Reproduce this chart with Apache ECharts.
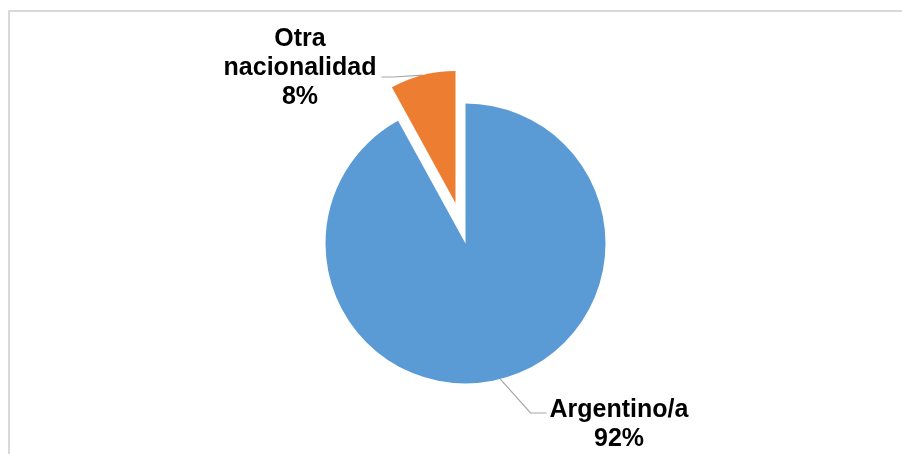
<!DOCTYPE html>
<html>
<head>
<meta charset="utf-8">
<script src="https://cdn.jsdelivr.net/npm/echarts@6/dist/echarts.min.js"></script>
<style>
  * { margin: 0; padding: 0; }
  html, body { width: 902px; height: 454px; background: #fff; overflow: hidden; }
  #main { width: 902px; height: 454px; }
</style>
</head>
<body>
<div id="main"></div>
<script>
  // datos
  var categorias = ['Argentino/a', 'Otra nacionalidad'];
  var valores = [92, 8];
  var colores = ['#5B9BD5', '#ED7D31'];

  var fuente = { fontFamily: 'Liberation Sans, Arial, sans-serif', fontWeight: 'bold', fontSize: 25, lineHeight: 29, color: '#000' };

  // posicion de cada etiqueta (centro del bloque) y donde llega la linea guia
  var posEtiquetas = [[619, 425], [300, 68]];
  var llegadaLinea = [{ lado: 'izq', dy: -12 }, { lado: 'der', dy: 9 }];

  // arma los datos de una serie: solo la porcion "visible" se pinta
  function armarDatos(visible) {
    return categorias.map(function (c, i) {
      var d = { name: c, value: valores[i], itemStyle: { color: colores[i] } };
      if (i !== visible) {
        d.itemStyle = { color: 'rgba(0,0,0,0)' };
        d.label = { show: false };
        d.labelLine = { show: false };
      }
      return d;
    });
  }

  var chart = echarts.init(document.getElementById('main'));

  var serieBase = {
    type: 'pie',
    startAngle: 90,
    clockwise: true,
    silent: true,
    animation: false,
    emphasis: { disabled: true },
    label: Object.assign({
      show: true,
      position: 'outside',
      formatter: function (p) { return p.name.replace(' ', '\n') + '\n' + p.percent + '%'; },
      align: 'center'
    }, fuente),
    labelLine: { show: true, length: 10, length2: 10, lineStyle: { color: '#A6A6A6', width: 1.2 } },
    labelLayout: function (params) {
      var i = params.dataIndex;
      var p = posEtiquetas[i];
      var w = params.labelRect.width;
      var ll = llegadaLinea[i];
      var fin, giro;
      if (ll.lado === 'izq') {
        fin = [p[0] - w / 2 - 3, p[1] + ll.dy];
        giro = [fin[0] - 16, fin[1]];
      } else {
        fin = [p[0] + w / 2 + 5, p[1] + ll.dy];
        giro = [fin[0] + 12, fin[1]];
      }
      var out = { x: p[0], y: p[1], align: 'center', verticalAlign: 'middle' };
      if (params.labelLinePoints) {
        out.labelLinePoints = [params.labelLinePoints[0], giro, fin];
      }
      return out;
    }
  };

  chart.setOption({
    backgroundColor: '#fff',
    graphic: [{
      type: 'rect',
      shape: { x: 9, y: 11, width: 920, height: 460 },
      style: { fill: 'none', stroke: '#D9D9D9', lineWidth: 2 },
      silent: true
    }],
    series: [
      Object.assign({}, serieBase, { center: [465.5, 243.5], radius: 140, data: armarDatos(0) }),
      Object.assign({}, serieBase, { center: [455.5, 203], radius: 132, data: armarDatos(1) })
    ]
  });
</script>
</body>
</html>
